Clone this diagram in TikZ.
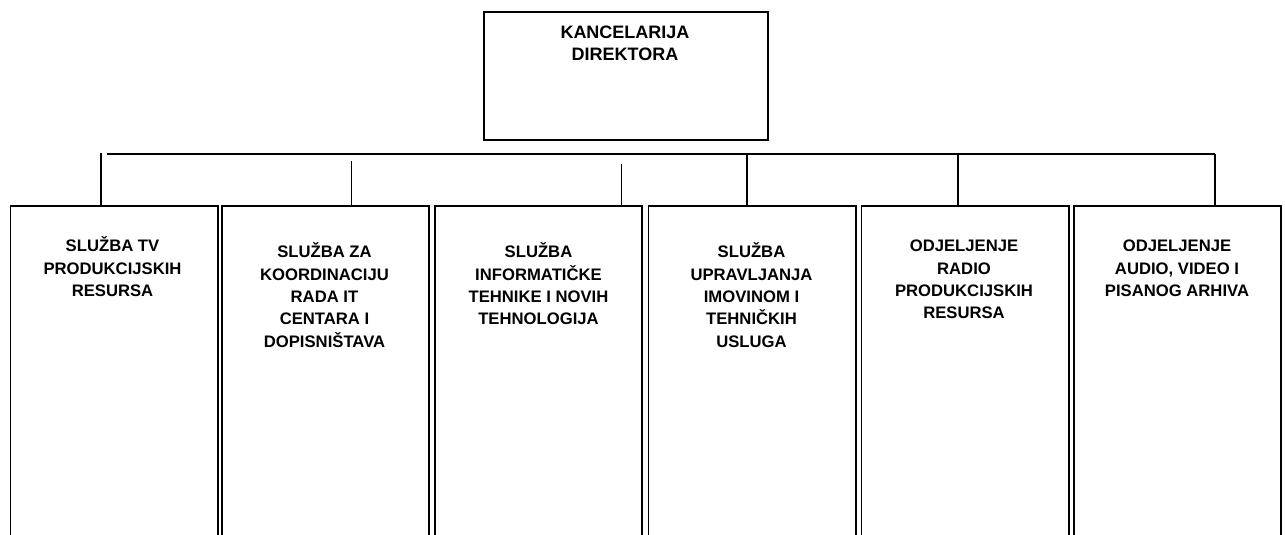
\documentclass[tikz,border=0pt]{standalone}
\usepackage{fontspec}
\setmainfont{Liberation Sans}
\begin{document}
\begin{tikzpicture}[x=0.75pt,y=-0.75pt,
  line width=1.4pt,
  topbox/.style={draw, line width=1.4pt, anchor=north west, inner sep=0pt,
    minimum width=213pt, minimum height=96pt},
  unitbox/.style={draw, line width=1.4pt, anchor=north west, inner sep=0pt,
    minimum width=155.6pt, minimum height=255pt},
  lbl/.style={anchor=north, inner sep=0pt, align=center,
    font=\fontsize{12.5}{16.75}\selectfont\bfseries}]
\useasboundingbox (0,0) rectangle (1285,535);

% top box
\node[topbox] (dir) at (483,11) {};
\node[lbl, font=\fontsize{13.5}{16.75}\selectfont\bfseries] (dirt) at (625,21.7) {\strut KANCELARIJA\\DIREKTORA};

% bottom boxes
\node[unitbox] (b1) at (9.5,205) {};
\node[unitbox] (b2) at (221,205) {};
\node[unitbox] (b3) at (434,205) {};
\node[unitbox] (b4) at (647.5,205) {};
\node[unitbox] (b5) at (860.5,205) {};
\node[unitbox] (b6) at (1073,205) {};

\node[lbl] (t1) at (112.5,235.4) {\strut SLUŽBA TV\\PRODUKCIJSKIH\\RESURSA};
\node[lbl] (t2) at (324.5,241.4) {\strut SLUŽBA ZA\\KOORDINACIJU\\RADA IT\\CENTARA I\\DOPISNIŠTAVA};
\node[lbl] (t3) at (538.5,241.4) {\strut SLUŽBA\\INFORMATIČKE\\TEHNIKE I NOVIH\\TEHNOLOGIJA};
\node[lbl] (t4) at (751.5,241.4) {\strut SLUŽBA\\UPRAVLJANJA\\IMOVINOM I\\TEHNIČKIH\\USLUGA};
\node[lbl] (t5) at (964,235.4) {\strut ODJELJENJE\\RADIO\\PRODUKCIJSKIH\\RESURSA};
\node[lbl] (t6) at (1177,235.4) {\strut ODJELJENJE\\AUDIO, VIDEO I\\PISANOG ARHIVA};

% connector bus
\coordinate (busL) at (107,154);
\coordinate (busR) at (1215,154);
\draw (busL) -- (busR);

\coordinate (c1) at (101,153);
\coordinate (c2) at (351.5,161);
\coordinate (c3) at (621.5,164);
\coordinate (c4) at (747,154);
\coordinate (c5) at (958,154);
\coordinate (c6) at (busR);

\draw (c1) -- (c1 |- b1.north);
\draw (c2) -- (c2 |- b2.north);
\draw (c3) -- (c3 |- b3.north);
\draw (c4) -- (c4 |- b4.north);
\draw (c5) -- (c5 |- b5.north);
\draw (c6) -- (c6 |- b6.north);
\end{tikzpicture}
\end{document}
